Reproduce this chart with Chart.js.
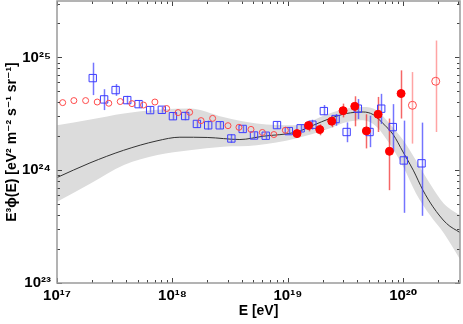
<!DOCTYPE html>
<html>
<head>
<meta charset="utf-8">
<script src="https://cdn.jsdelivr.net/npm/chart.js@4/dist/chart.umd.min.js"></script>
<style>
  html, body { margin: 0; padding: 0; background: #fff; }
  #wrap { width: 463px; height: 324px; }
</style>
</head>
<body>
<div id="wrap"><canvas id="myChart"></canvas></div>
<script>
// tick labels (powers of ten)
const xTicks = [1e17, 1e18, 1e19, 1e20];
const yTicks = [1e23, 1e24, 1e25];

// model curve
const lineE = [1.0e17, 1.93e17, 3.77e17, 7.35e17, 1.16e18, 2.0e18, 3.84e18, 6.11e18, 1.19e19, 1.66e19, 2.31e19,
  3.22e19, 4.49e19, 5.48e19, 6.68e19, 8.17e19, 9.95e19, 1.22e20, 1.48e20, 1.81e20, 2.37e20, 3.1e20];
const lineFlux = [8.61e23, 1.16e24, 1.50e24, 1.82e24, 1.96e24, 1.95e24, 1.87e24, 2.00e24, 2.18e24, 2.50e24, 2.87e24,
  3.18e24, 3.28e24, 3.11e24, 2.59e24, 2.07e24, 1.45e24, 1.0e24, 6.65e23, 4.73e23, 3.37e23, 2.80e23];

// uncertainty band
const bandE = [1.0e17, 1.95e17, 3.80e17, 7.41e17, 1.41e18, 2.75e18, 5.37e18, 1.17e19, 2.29e19, 3.24e19,
  4.47e19, 5.89e19, 7.59e19, 1.0e20, 1.29e20, 1.70e20, 2.24e20, 3.1e20];
const bandUpper = [2.50e24, 2.81e24, 3.18e24, 3.44e24, 3.52e24, 2.96e24, 2.59e24, 2.50e24, 3.18e24, 3.52e24,
  3.63e24, 3.40e24, 2.59e24, 1.84e24, 1.22e24, 7.62e23, 5.07e23, 3.98e23];
const bandLower = [5.24e23, 7.62e23, 1.11e24, 1.36e24, 1.50e24, 1.61e24, 1.66e24, 1.91e24, 2.34e24, 2.67e24,
  2.77e24, 2.42e24, 1.72e24, 1.07e24, 6.22e23, 4.00e23, 2.77e23, 1.62e23];

// blue squares
const blueE = [2.04e17, 2.56e17, 3.22e17, 4.06e17, 5.09e17, 6.41e17, 8.09e17, 1.01e18, 1.29e18, 1.63e18,
  2.04e18, 2.57e18, 3.24e18, 4.06e18, 5.09e18, 6.43e18, 8.05e18, 1.02e19, 1.29e19, 1.63e19,
  2.05e19, 2.59e19, 3.23e19, 4.04e19, 5.10e19, 6.44e19, 8.11e19, 1.01e20, 1.44e20];
const blueFlux = [6.55e24, 4.24e24, 5.13e24, 4.18e24, 3.85e24, 3.41e24, 3.43e24, 3.01e24, 3.02e24, 2.57e24,
  2.50e24, 2.50e24, 1.91e24, 2.32e24, 2.03e24, 2.02e24, 2.51e24, 2.22e24, 2.35e24, 2.53e24,
  3.34e24, 2.84e24, 2.18e24, 3.51e24, 2.18e24, 3.51e24, 2.41e24, 1.22e24, 1.15e24];
const blueLo = [4.63e24, 3.41e24, 4.56e24, 3.85e24, 3.57e24, 3.23e24, 3.23e24, 2.80e24, 2.77e24, 2.38e24,
  2.29e24, 2.33e24, 1.75e24, 2.17e24, 1.91e24, 1.89e24, 2.33e24, 2.07e24, 2.17e24, 2.29e24,
  3.08e24, 2.48e24, 1.77e24, 2.84e24, 1.60e24, 2.57e24, 1.46e24, 4.19e23, 3.94e23];
const blueHi = [8.97e24, 5.22e24, 5.80e24, 4.56e24, 4.12e24, 3.65e24, 3.65e24, 3.23e24, 3.30e24, 2.75e24,
  2.75e24, 2.69e24, 2.09e24, 2.48e24, 2.17e24, 2.15e24, 2.69e24, 2.38e24, 2.53e24, 2.80e24,
  3.78e24, 3.15e24, 2.65e24, 4.27e24, 3.04e24, 4.75e24, 3.85e24, 2.75e24, 2.64e24];

// red open circles, low energy
const redOpenE = [1.12e17, 1.40e17, 1.77e17, 2.23e17, 2.81e17, 3.53e17, 4.46e17, 5.62e17, 7.05e17, 8.91e17,
  1.12e18, 1.41e18, 1.77e18, 2.23e18, 3.03e18, 3.77e18, 4.79e18, 6.01e18, 7.57e18, 9.51e18];
const redOpenFlux = [3.97e24, 4.14e24, 4.14e24, 4.02e24, 3.92e24, 4.06e24, 3.89e24, 3.78e24, 4.02e24, 3.52e24,
  3.24e24, 3.26e24, 2.75e24, 2.88e24, 2.48e24, 2.40e24, 2.30e24, 2.16e24, 2.07e24, 2.26e24];

// red open circles, highest energies
const redHighE = [1.20e20, 1.91e20];
const redHighFlux = [3.76e24, 6.14e24];
const redHighLo = [1.72e24, 2.18e24];
const redHighHi = [7.41e24, 1.41e25];

// red filled circles
const redE = [1.20e19, 1.51e19, 1.89e19, 2.40e19, 3.01e19, 3.80e19, 4.79e19, 6.05e19, 7.59e19, 9.57e19];
const redFlux = [2.11e24, 2.49e24, 2.29e24, 2.72e24, 3.37e24, 3.68e24, 2.23e24, 3.13e24, 1.47e24, 4.78e24];
const redLo = [1.96e24, 2.21e24, 2.04e24, 2.40e24, 2.94e24, 2.45e24, 1.56e24, 2.18e24, 6.65e23, 2.87e24];
const redHi = [2.26e24, 2.72e24, 2.55e24, 3.01e24, 3.89e24, 4.52e24, 3.13e24, 4.46e24, 2.87e24, 7.67e24];

const FONT = "'Liberation Sans', 'DejaVu Sans', sans-serif";

function pts(xs, ys) {
  return xs.map((x, i) => ({ x: x, y: ys[i] }));
}

function sup(n) {
  const map = { "0": "⁰", "1": "¹", "2": "²", "3": "³", "4": "⁴", "5": "⁵", "6": "⁶", "7": "⁷", "8": "⁸", "9": "⁹" };
  return String(n).split("").map(c => map[c]).join("");
}

function powLabel(v) {
  return "10" + sup(Math.round(Math.log10(v)));
}

const errorSets = [
  { e: blueE, lo: blueLo, hi: blueHi, color: "rgba(70,70,255,0.75)" },
  { e: redHighE, lo: redHighLo, hi: redHighHi, color: "rgba(255,90,90,0.55)" },
  { e: redE, lo: redLo, hi: redHi, color: "rgba(240,20,20,0.65)" }
];

const errorBars = {
  id: "errorBars",
  afterDatasetDraw(chart, args) {
    if (args.index !== 4) return;
    const ctx = chart.ctx;
    const xs = chart.scales.x, ys = chart.scales.y;
    ctx.save();
    ctx.lineWidth = 1.5;
    errorSets.forEach(s => {
      ctx.strokeStyle = s.color;
      for (let i = 0; i < s.e.length; i++) {
        const px = Math.round(xs.getPixelForValue(s.e[i])) + 0.5;
        ctx.beginPath();
        ctx.moveTo(px, ys.getPixelForValue(s.lo[i]));
        ctx.lineTo(px, ys.getPixelForValue(s.hi[i]));
        ctx.stroke();
      }
    });
    ctx.restore();
  }
};

const frame = {
  id: "frame",
  afterDatasetsDraw(chart) {
    const ctx = chart.ctx;
    const a = chart.chartArea;
    const xs = chart.scales.x, ys = chart.scales.y;
    ctx.save();
    ctx.strokeStyle = "#444";
    ctx.lineWidth = 1;
    // x ticks, top and bottom, pointing inward
    for (let d = 17; d <= 20; d++) {
      for (let m = 1; m <= 9; m++) {
        const v = m * Math.pow(10, d);
        if (v > xs.max) break;
        const px = Math.round(xs.getPixelForValue(v)) + 0.5;
        const len = m === 1 ? 5 : 3;
        ctx.beginPath();
        ctx.moveTo(px, a.bottom); ctx.lineTo(px, a.bottom - len);
        ctx.moveTo(px, a.top); ctx.lineTo(px, a.top + len);
        ctx.stroke();
      }
    }
    // y ticks, left and right
    for (let d = 23; d <= 25; d++) {
      for (let m = 1; m <= 9; m++) {
        const v = m * Math.pow(10, d);
        if (v > ys.max) break;
        const py = Math.round(ys.getPixelForValue(v)) + 0.5;
        const len = m === 1 ? 5 : 3;
        ctx.beginPath();
        ctx.moveTo(a.left, py); ctx.lineTo(a.left + len, py);
        ctx.moveTo(a.right, py); ctx.lineTo(a.right - len, py);
        ctx.stroke();
      }
    }
    ctx.strokeStyle = "#9a9a9a";
    ctx.lineWidth = 1.5;
    ctx.strokeRect(a.left, a.top, a.right - a.left, a.bottom - a.top);
    ctx.restore();
  }
};

new Chart(document.getElementById("myChart").getContext("2d"), {
  type: "line",
  data: {
    datasets: [
      {
        data: pts(redE, redFlux),
        showLine: false,
        pointStyle: "circle",
        pointRadius: 4,
        pointBackgroundColor: "#ff0000",
        pointBorderColor: "#ff0000",
        pointBorderWidth: 1
      },
      {
        data: pts(redOpenE, redOpenFlux),
        showLine: false,
        pointStyle: "circle",
        pointRadius: 3,
        pointBackgroundColor: "rgba(0,0,0,0)",
        pointBorderColor: "#ff4a4a",
        pointBorderWidth: 1
      },
      {
        data: pts(redHighE, redHighFlux),
        showLine: false,
        pointStyle: "circle",
        pointRadius: 4,
        pointBackgroundColor: "rgba(0,0,0,0)",
        pointBorderColor: "#ff4a4a",
        pointBorderWidth: 1
      },
      {
        data: pts(blueE, blueFlux),
        showLine: false,
        pointStyle: "rect",
        pointRadius: 5.2,
        pointBackgroundColor: "rgba(0,0,0,0)",
        pointBorderColor: "#3c3cff",
        pointBorderWidth: 1
      },
      {
        data: pts(lineE, lineFlux),
        borderColor: "#333",
        borderWidth: 1,
        pointRadius: 0,
        tension: 0.4,
        cubicInterpolationMode: "monotone",
        fill: false
      },
      {
        data: pts(bandE, bandUpper),
        borderWidth: 0,
        borderColor: "rgba(0,0,0,0)",
        backgroundColor: "#dcdcdc",
        pointRadius: 0,
        tension: 0.4,
        cubicInterpolationMode: "monotone",
        fill: "+1"
      },
      {
        data: pts(bandE, bandLower),
        borderWidth: 0,
        borderColor: "rgba(0,0,0,0)",
        pointRadius: 0,
        tension: 0.4,
        cubicInterpolationMode: "monotone",
        fill: false
      }
    ]
  },
  options: {
    responsive: true,
    maintainAspectRatio: false,
    animation: false,
    layout: { autoPadding: false, padding: { top: 1, right: 3, left: 0, bottom: 0 } },
    plugins: {
      legend: { display: false },
      tooltip: { enabled: false }
    },
    scales: {
      x: {
        type: "logarithmic",
        min: 1e17,
        max: 3.1e20,
        afterBuildTicks: s => { s.ticks = xTicks.map(v => ({ value: v })); },
        afterFit: s => { s.height = 41; s.paddingLeft = 0; s.paddingRight = 0; },
        grid: { display: false, drawTicks: false },
        border: { display: false },
        ticks: {
          autoSkip: false,
          maxRotation: 0,
          padding: 4,
          color: "#000",
          font: { family: FONT, size: 15, weight: "bold" },
          callback: v => powLabel(v)
        },
        title: {
          display: true,
          text: "E [eV]",
          color: "#000",
          font: { family: FONT, size: 14, weight: "bold" },
          padding: { top: 0, bottom: 4 }
        }
      },
      y: {
        type: "logarithmic",
        min: 1e23,
        max: 3.16e25,
        afterBuildTicks: s => { s.ticks = yTicks.map(v => ({ value: v })); },
        afterFit: s => { s.width = 57; s.paddingTop = 0; s.paddingBottom = 0; },
        grid: { display: false, drawTicks: false },
        border: { display: false },
        ticks: {
          autoSkip: false,
          padding: 6,
          color: "#000",
          font: { family: FONT, size: 15, weight: "bold" },
          callback: v => powLabel(v)
        },
        title: {
          display: true,
          text: "E³ϕ(E) [eV² m⁻² s⁻¹ sr⁻¹]",
          color: "#000",
          font: { family: FONT, size: 14, weight: "bold" },
          padding: { top: 4, bottom: 0 }
        }
      }
    }
  },
  plugins: [errorBars, frame]
});
</script>
</body>
</html>
